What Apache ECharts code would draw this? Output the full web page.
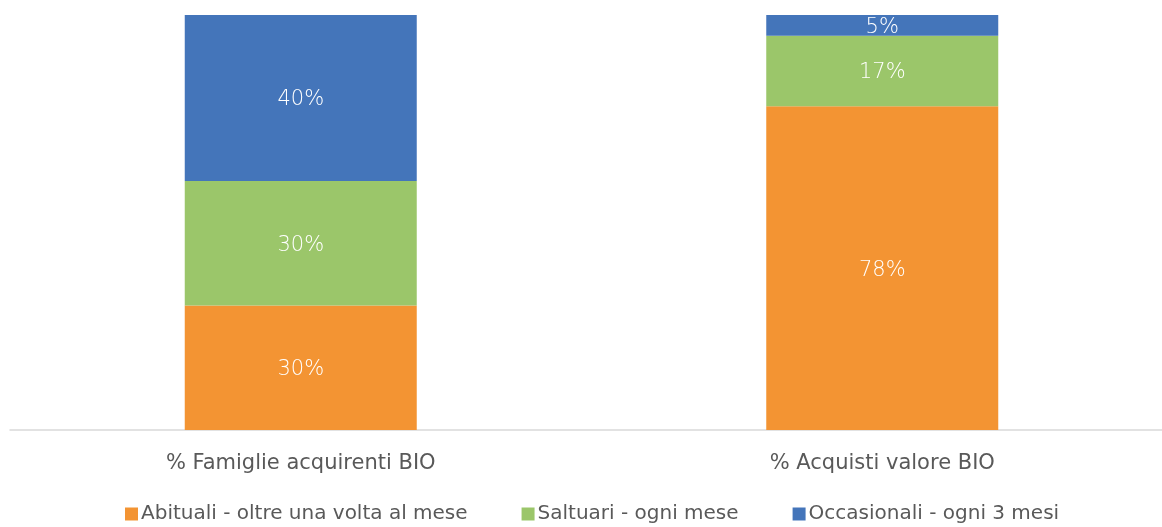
<!DOCTYPE html>
<html><head><meta charset="utf-8">
<script src="https://cdn.jsdelivr.net/npm/echarts@6/dist/echarts.min.js"></script>
<style>html,body{margin:0;padding:0;background:#fff;overflow:hidden;width:1162px;height:527px}#c{width:1173px;height:527px}</style>
</head><body><div id="c"></div>
<script>
const categories = ['% Famiglie acquirenti BIO', '% Acquisti valore BIO'];
const seriesNames = ['Abituali - oltre una volta al mese', 'Saltuari - ogni mese', 'Occasionali - ogni 3 mesi'];
const abituali = [30, 78];
const saltuari = [30, 17];
const occasionali = [40, 5];
const colors = ['#F39433', '#9BC66A', '#4475BA'];
const values = [abituali, saltuari, occasionali];

const chart = echarts.init(document.getElementById('c'));
const font = '"DejaVu Sans", sans-serif';
chart.setOption({
  animation: false,
  textStyle: { fontFamily: font },
  grid: { left: 10, right: 0, top: 15, bottom: 97, containLabel: false },
  legend: {
    bottom: -2, left: 120,
    itemWidth: 13, itemHeight: 13, itemGap: 54,
    icon: 'rect',
    textStyle: { fontSize: 20, color: '#595959', fontFamily: font, padding: [0,0,0,-2] },
    data: seriesNames
  },
  xAxis: {
    type: 'category', data: categories,
    axisLine: { lineStyle: { color: '#D9D9D9', width: 1.5 } },
    axisTick: { show: false },
    axisLabel: { fontSize: 21, color: '#595959', margin: 23, fontFamily: font }
  },
  yAxis: { type: 'value', min: 0, max: 100, show: false },
  series: values.map((v, i) => ({
    name: seriesNames[i], type: 'bar', stack: 'tot', data: v,
    barWidth: 232,
    itemStyle: { color: colors[i] },
    label: { show: true, position: 'inside', offset: [0, 2], formatter: '{c}%', color: '#fff', fontSize: 21, fontFamily: font, fontWeight: 200 }
  }))
});
</script></body></html>
